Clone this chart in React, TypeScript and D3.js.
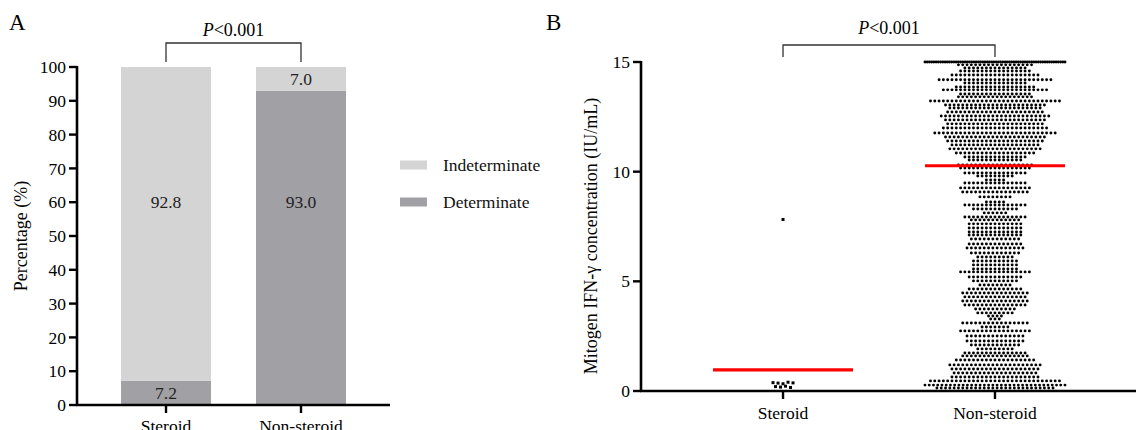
import React from "react";
import * as d3 from "d3";

// ---------- Panel A data ----------
const groups = ["Steroid", "Non-steroid"];
const seriesNames = ["Determinate", "Indeterminate"];
const determinate = [7.2, 93.0];
const indeterminate = [92.8, 7.0];
const yTicksA = [0, 10, 20, 30, 40, 50, 60, 70, 80, 90, 100];

// ---------- Panel B data ----------
const steroidValues = [0.38, 0.36, 0.33, 0.40, 0.37, 0.20, 0.18, 0.22, 0.16, 7.82];
const nonSteroidLevels = [
  15.0, 14.87, 14.73, 14.59, 14.41, 14.19, 14.04, 13.86, 13.73, 13.54, 13.41, 13.22, 13.04, 12.9,
  12.72, 12.54, 12.36, 12.18, 11.99, 11.76, 11.58, 11.4, 11.22, 11.04, 10.85, 10.67, 10.53, 10.31,
  10.17, 9.94, 9.8, 9.62, 9.48, 9.26, 9.07, 8.85, 8.62, 8.48, 8.3, 8.12, 7.93, 7.8, 7.62, 7.43,
  7.25, 7.11, 6.93, 6.7, 6.52, 6.29, 6.11, 5.93, 5.75, 5.56, 5.43, 5.2, 5.02, 4.83, 4.65, 4.47,
  4.29, 4.1, 3.92, 3.74, 3.56, 3.42, 3.28, 3.1, 2.92, 2.74, 2.51, 2.28, 2.1, 1.92, 1.73, 1.6,
  1.41, 1.19, 1.0, 0.82, 0.64, 0.46, 0.27, 0.14,
];
const nonSteroidCounts = [
  64, 18, 15, 17, 21, 27, 15, 19, 25, 17, 18, 31, 24, 22,
  23, 26, 24, 23, 25, 29, 24, 23, 21, 22, 19, 15, 13, 18,
  17, 15, 9, 5, 15, 17, 16, 8, 5, 15, 11, 6, 15, 12, 13, 13,
  13, 13, 12, 13, 14, 12, 9, 11, 11, 11, 17, 13, 11, 8, 13, 16,
  15, 16, 15, 10, 9, 4, 3, 16, 7, 17, 14, 14, 12, 9, 15, 16,
  19, 22, 21, 20, 21, 31, 34, 28,
];
const centerLines = [0.96, 10.27];
const yTicksB = [0, 5, 10, 15];

const FONT = "'Liberation Serif', 'Times New Roman', serif";

export default function App() {
  // Panel A scales
  const xA = d3.scaleBand<string>().domain(groups).range([77, 390]).paddingInner(1 / 3).paddingOuter(0.326);
  const yA = d3.scaleLinear().domain([0, 100]).range([405, 67]);
  const colA = d3.scaleOrdinal<string, string>().domain(seriesNames).range(["#a1a0a5", "#d4d4d4"]);

  const stack = d3.stack<any>().keys(seriesNames)(
    groups.map((g, i) => ({ g, Determinate: determinate[i], Indeterminate: indeterminate[i] }))
  );

  // Panel B scales
  const xB = d3.scalePoint<string>().domain(groups).range([641, 1137]).padding(0.67);
  const yB = d3.scaleLinear().domain([0, 15]).range([391, 62]);

  const maxW = 140;
  const spacing = 4.3;
  const rowDots = (cx: number, v: number, n: number) => {
    const s = n > 1 ? Math.min(spacing, maxW / (n - 1)) : 0;
    return d3.range(n).map((i) => ({ x: cx + (i - (n - 1) / 2) * s, y: yB(v) }));
  };

  const nsDots: { x: number; y: number }[] = [];
  nonSteroidLevels.forEach((v, i) => nsDots.push(...rowDots(xB("Non-steroid")!, v, nonSteroidCounts[i])));

  const stCx = xB("Steroid")!;
  const stRows = d3.groups(steroidValues, (v) => (v > 0.3 && v < 1 ? "hi" : v < 0.3 ? "lo" : "out"));
  const stDots: { x: number; y: number }[] = [];
  stRows.forEach(([, vals]) => {
    const n = vals.length;
    vals.forEach((v, i) => stDots.push({ x: stCx + (i - (n - 1) / 2) * 5, y: yB(v) }));
  });

  const labelY = (d: any) => {
    const h = d[1] - d[0];
    return h > 50 ? yA(60) : yA((d[0] + d[1]) / 2);
  };

  return (
    <svg width={1136} height={430} style={{ position: "absolute", left: 0, top: 0, background: "#fff" }} fontFamily={FONT}>
      {/* ---------------- Panel A ---------------- */}
      <text x={9} y={30} fontSize={23}>A</text>
      {stack.map((layer) => (
        <g key={layer.key}>
          {layer.map((d, i) => (
            <rect key={i} x={xA(groups[i])} width={xA.bandwidth()} y={yA(d[1])} height={yA(d[0]) - yA(d[1])} fill={colA(layer.key)} />
          ))}
          {layer.map((d, i) => (
            <text key={"t" + i} x={xA(groups[i])! + xA.bandwidth() / 2} y={labelY(d)} dy="0.35em" textAnchor="middle" fontSize={17.5} fill="#222">
              {(d[1] - d[0]).toFixed(1)}
            </text>
          ))}
        </g>
      ))}
      {/* axes A */}
      <line x1={77} x2={77} y1={yA(100) - 1} y2={406} stroke="#000" strokeWidth={2.6} />
      <line x1={76} x2={390} y1={405} y2={405} stroke="#000" strokeWidth={2.6} />
      {yTicksA.map((t) => (
        <g key={t}>
          <line x1={69} x2={77} y1={yA(t)} y2={yA(t)} stroke="#000" strokeWidth={2.4} />
          <text x={66} y={yA(t)} dy="0.35em" textAnchor="end" fontSize={17.5}>{t}</text>
        </g>
      ))}
      {groups.map((g) => (
        <g key={g}>
          <line x1={xA(g)! + xA.bandwidth() / 2} x2={xA(g)! + xA.bandwidth() / 2} y1={405} y2={413} stroke="#000" strokeWidth={2.4} />
          <text x={xA(g)! + xA.bandwidth() / 2} y={432} textAnchor="middle" fontSize={17.5}>{g}</text>
        </g>
      ))}
      <text transform={`translate(27,${yA(50)}) rotate(-90)`} textAnchor="middle" fontSize={18}>Percentage (%)</text>
      {/* bracket A */}
      <path
        d={`M${xA("Steroid")! + xA.bandwidth() / 2},62 V43 H${xA("Non-steroid")! + xA.bandwidth() / 2} V62`}
        fill="none" stroke="#333" strokeWidth={1.3}
      />
      <text x={(xA("Steroid")! + xA("Non-steroid")! + xA.bandwidth()) / 2} y={36} textAnchor="middle" fontSize={18}>
        <tspan fontStyle="italic">P</tspan>&lt;0.001
      </text>
      {/* legend */}
      {["Indeterminate", "Determinate"].map((k, i) => (
        <g key={k} transform={`translate(400,${165 + i * 37})`}>
          <rect x={0} y={-4.5} width={27} height={9} fill={colA(k)} />
          <text x={43} y={0} dy="0.35em" fontSize={17.5} fill="#111">{k}</text>
        </g>
      ))}

      {/* ---------------- Panel B ---------------- */}
      <text x={546} y={30} fontSize={23}>B</text>
      {nsDots.map((d, i) => (
        <circle key={"n" + i} cx={d.x} cy={d.y} r={1.45} fill="#000" />
      ))}
      {stDots.map((d, i) => (
        <rect key={"s" + i} x={d.x - 1.5} y={d.y - 1.5} width={3} height={3} fill="#000" />
      ))}
      {groups.map((g, i) => (
        <line key={g} x1={xB(g)! - 70} x2={xB(g)! + 70} y1={yB(centerLines[i])} y2={yB(centerLines[i])} stroke="#ff0000" strokeWidth={3.2} />
      ))}
      {/* axes B */}
      <line x1={641} x2={641} y1={yB(15) - 1} y2={392} stroke="#000" strokeWidth={2.6} />
      <line x1={640} x2={1136} y1={391} y2={391} stroke="#000" strokeWidth={2.6} />
      {yTicksB.map((t) => (
        <g key={t}>
          <line x1={633} x2={641} y1={yB(t)} y2={yB(t)} stroke="#000" strokeWidth={2.4} />
          <text x={630} y={yB(t)} dy="0.35em" textAnchor="end" fontSize={17.5}>{t}</text>
        </g>
      ))}
      {groups.map((g) => (
        <g key={g}>
          <line x1={xB(g)} x2={xB(g)} y1={391} y2={399} stroke="#000" strokeWidth={2.4} />
          <text x={xB(g)} y={419} textAnchor="middle" fontSize={17.5}>{g}</text>
        </g>
      ))}
      <text transform={`translate(597,236) rotate(-90)`} textAnchor="middle" fontSize={18}>Mitogen IFN-γ concentration (IU/mL)</text>
      <path d={`M${xB("Steroid")},57 V45 H${xB("Non-steroid")} V57`} fill="none" stroke="#333" strokeWidth={1.3} />
      <text x={(xB("Steroid")! + xB("Non-steroid")!) / 2} y={34} textAnchor="middle" fontSize={18}>
        <tspan fontStyle="italic">P</tspan>&lt;0.001
      </text>
    </svg>
  );
}
